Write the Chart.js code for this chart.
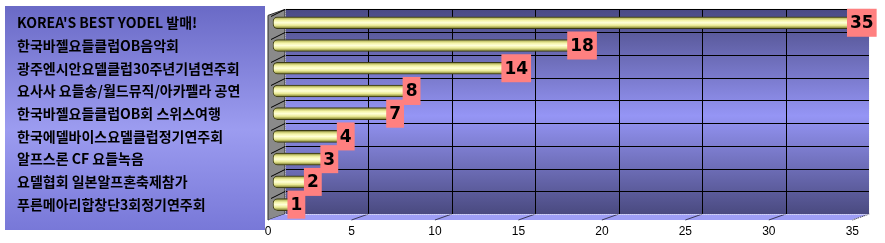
<!DOCTYPE html>
<html>
<head>
<meta charset="utf-8">
<script src="https://cdn.jsdelivr.net/npm/chart.js@4.4.1/dist/chart.umd.min.js"></script>
<style>
  html, body { margin: 0; padding: 0; background: #fff; }
</style>
</head>
<body>
<canvas id="yodelChart" width="885" height="243"></canvas>
<script>
// --- Data ---
const categories = [
    "KOREA'S BEST YODEL 발매!",
    '한국바젤요들클럽OB음악회',
    '광주엔시안요델클럽30주년기념연주회',
    '요사사 요들송/월드뮤직/아카펠라 공연',
    '한국바젤요들클럽OB회 스위스여행',
    '한국에델바이스요델클럽정기연주회',
    '알프스론 CF 요들녹음',
    '요델협회 일본알프혼축제참가',
    '푸른메아리합창단3회정기연주회'
];
const counts = [35, 18, 14, 8, 7, 4, 3, 2, 1];
const xTickValues = [0, 5, 10, 15, 20, 25, 30, 35];

// 3D depth offset (front plane -> back wall)
const DEPTH_X = 17;
const DEPTH_Y = -6;

// Draws the panel, walls, floor and gridlines behind everything
const scenePlugin = {
    id: 'scene3d',
    beforeDraw(chart) {
        const { ctx, chartArea } = chart;
        const xs = chart.scales.x;
        const ys = chart.scales.y;
        const backTop = chartArea.top - 2;
        const backBottom = chartArea.bottom - 2;
        const backLeft = chartArea.left + DEPTH_X;
        const backRight = chartArea.right;
        const front = v => xs.getPixelForValue(v);

        ctx.save();

        // label panel
        const pg = ctx.createLinearGradient(0, 6, 0, 230);
        pg.addColorStop(0, '#6a6ac6');
        pg.addColorStop(0.55, '#9c9cf0');
        pg.addColorStop(1, '#7878d8');
        ctx.fillStyle = pg;
        ctx.fillRect(5, 6, 260, 224);

        // back wall
        const wg = ctx.createLinearGradient(0, backTop, 0, backBottom);
        wg.addColorStop(0, '#4a4a84');
        wg.addColorStop(0.52, '#9595f5');
        wg.addColorStop(1, '#4a4a80');
        ctx.fillStyle = wg;
        ctx.fillRect(backLeft, backTop, backRight - backLeft, backBottom - backTop);

        // side wall
        ctx.fillStyle = '#8a8a8a';
        ctx.beginPath();
        ctx.moveTo(chartArea.left, backTop - DEPTH_Y);
        ctx.lineTo(backLeft, backTop);
        ctx.lineTo(backLeft, backBottom);
        ctx.lineTo(chartArea.left, backBottom - DEPTH_Y);
        ctx.closePath();
        ctx.fill();
        ctx.strokeStyle = '#2a2a2a';
        ctx.lineWidth = 1;
        ctx.stroke();

        // floor
        ctx.fillStyle = '#9e9ef6';
        ctx.beginPath();
        ctx.moveTo(backLeft, backBottom);
        ctx.lineTo(backRight, backBottom);
        ctx.lineTo(backRight - DEPTH_X, backBottom - DEPTH_Y);
        ctx.lineTo(chartArea.left, backBottom - DEPTH_Y);
        ctx.closePath();
        ctx.fill();

        // gridlines
        ctx.strokeStyle = '#000';
        ctx.lineWidth = 1;
        ctx.beginPath();
        xTickValues.forEach(v => {
            if (v === 0) return;
            const x = Math.round(front(v) + DEPTH_X) + 0.5;
            if (x < backRight - 1) {
                ctx.moveTo(x, backTop);
                ctx.lineTo(x, backBottom);
            }
        });
        const bounds = [backTop];
        for (let i = 0; i < categories.length - 1; i++) {
            bounds.push((ys.getPixelForValue(i) + ys.getPixelForValue(i + 1)) / 2 - 2);
        }
        bounds.forEach(b => {
            const y = Math.round(b) + 0.5;
            ctx.moveTo(backLeft, y);
            ctx.lineTo(backRight, y);
            ctx.moveTo(backLeft, y);
            ctx.lineTo(chartArea.left + 3, y - DEPTH_Y + 1);
        });
        ctx.stroke();

        // floor tick lines
        ctx.strokeStyle = '#3a3a5a';
        ctx.beginPath();
        xTickValues.forEach(v => {
            if (v === 0) return;
            ctx.moveTo(front(v), backBottom - DEPTH_Y);
            ctx.lineTo(front(v) + DEPTH_X, backBottom);
        });
        ctx.stroke();

        // dotted wall edges
        ctx.strokeStyle = '#f4f4f4';
        ctx.setLineDash([1, 1]);
        ctx.beginPath();
        ctx.moveTo(backLeft + 0.5, backTop - 1);
        ctx.lineTo(backRight + 0.5, backTop - 1);
        ctx.lineTo(backRight + 0.5, backBottom);
        ctx.moveTo(backLeft + 0.5, backTop);
        ctx.lineTo(backLeft + 0.5, backBottom + 0.5);
        ctx.lineTo(backRight, backBottom + 0.5);
        ctx.lineTo(backRight - DEPTH_X, backBottom - DEPTH_Y);
        ctx.stroke();
        ctx.setLineDash([]);

        ctx.restore();
    }
};

// Pink value boxes at the end of each bar
const valueBoxPlugin = {
    id: 'valueBoxes',
    afterDatasetsDraw(chart) {
        const { ctx } = chart;
        const meta = chart.getDatasetMeta(0);
        ctx.save();
        ctx.font = 'bold 17px "DejaVu Sans"';
        ctx.textAlign = 'center';
        ctx.textBaseline = 'middle';
        meta.data.forEach((bar, i) => {
            const label = String(counts[i]);
            const w = ctx.measureText(label).width + 6;
            const left = bar.x - 2;
            ctx.fillStyle = '#ff8080';
            ctx.fillRect(left, bar.y - 14, w, 28);
            ctx.fillStyle = '#000';
            ctx.fillText(label, left + w / 2, bar.y + 1);
        });
        ctx.restore();
    }
};

function barFill(context) {
    const chart = context.chart;
    if (!chart.chartArea || !chart.scales.y) return '#f0f0a0';
    const y = chart.scales.y.getPixelForValue(context.dataIndex);
    const g = chart.ctx.createLinearGradient(0, y - 6, 0, y + 6);
    g.addColorStop(0, '#5c5c24');
    g.addColorStop(0.15, '#c8c870');
    g.addColorStop(0.3, '#f4f4a8');
    g.addColorStop(0.5, '#ffffd8');
    g.addColorStop(0.72, '#eaea94');
    g.addColorStop(0.9, '#9a9a48');
    g.addColorStop(1, '#4a4a18');
    return g;
}

const ctx = document.getElementById('yodelChart').getContext('2d');
new Chart(ctx, {
    type: 'bar',
    data: {
        labels: categories,
        datasets: [{
            data: counts,
            xAxisID: 'xb',
            backgroundColor: barFill,
            borderColor: '#3c3c14',
            borderWidth: 1,
            borderSkipped: false,
            borderRadius: { topLeft: 5, bottomLeft: 5, topRight: 0, bottomRight: 0 },
            barThickness: 12
        }]
    },
    options: {
        indexAxis: 'y',
        responsive: false,
        animation: false,
        layout: { padding: { left: 17, right: 16, top: 9.5, bottom: 0 } },
        plugins: {
            legend: { display: false },
            tooltip: { enabled: false }
        },
        scales: {
            y: {
                position: 'left',
                grid: { display: false, drawTicks: false },
                border: { display: false },
                afterFit: axis => { axis.width = 251; },
                ticks: {
                    autoSkip: false,
                    crossAlign: 'far',
                    color: '#000',
                    font: { family: '"Noto Sans CJK KR"', size: 14, weight: 'bold' }
                }
            },
            x: {
                position: 'bottom',
                min: 0,
                max: 36,
                grid: { display: false, drawTicks: false },
                border: { display: false },
                afterFit: axis => { axis.height = 27; },
                afterBuildTicks: axis => { axis.ticks = xTickValues.map(v => ({ value: v })); },
                ticks: {
                    padding: 8,
                    color: '#000',
                    font: { family: '"Liberation Sans"', size: 12 }
                }
            },
            xb: {
                type: 'linear',
                display: false,
                min: -0.304,
                max: 36.216
            }
        }
    },
    plugins: [scenePlugin, valueBoxPlugin]
});
</script>
</body>
</html>
